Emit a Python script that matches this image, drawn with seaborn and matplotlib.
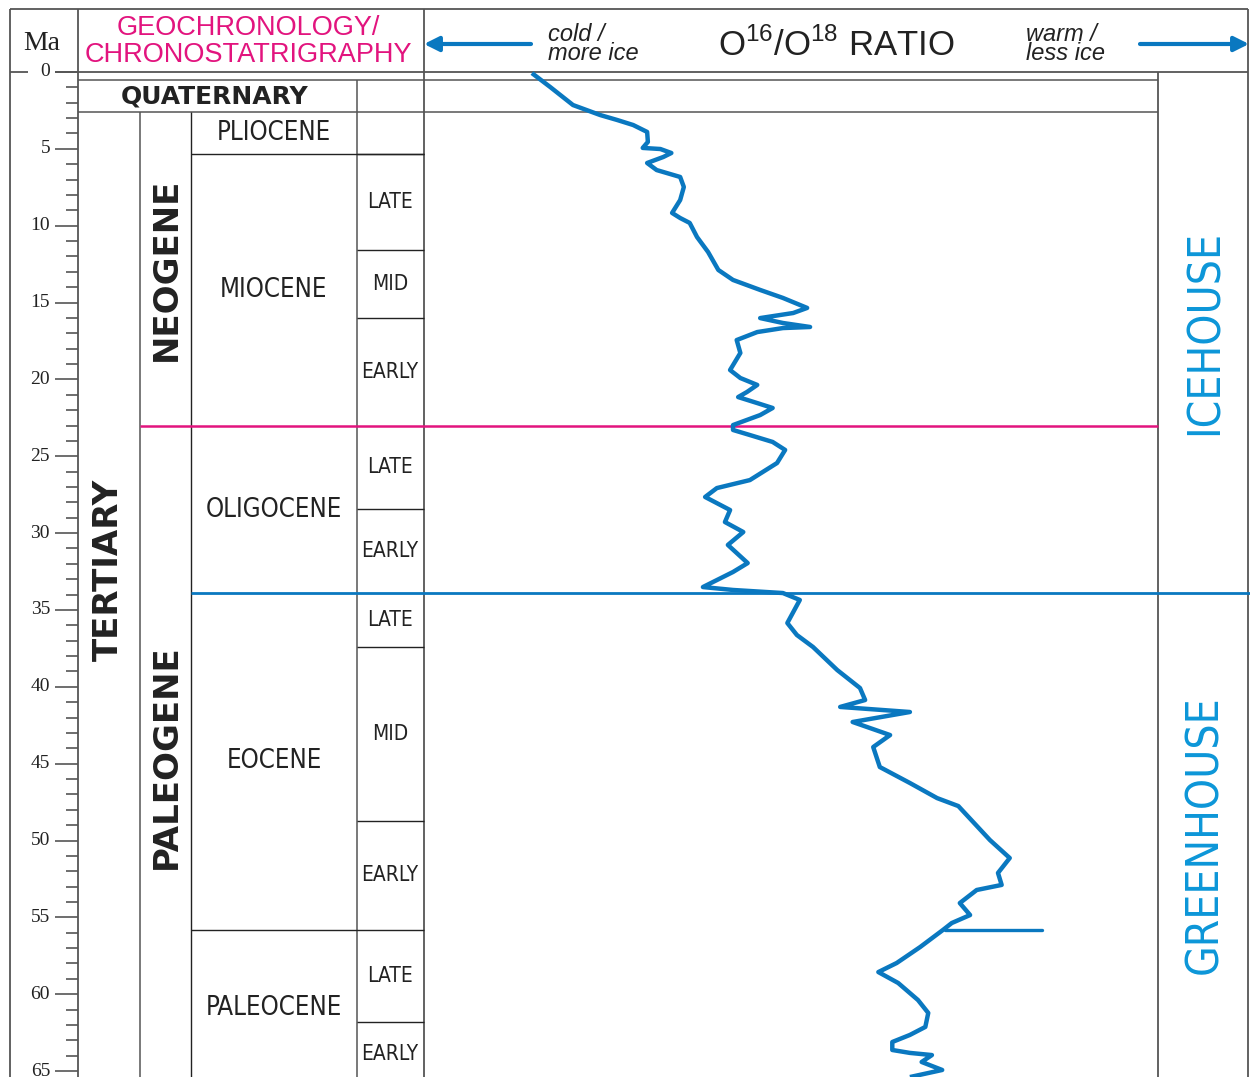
import numpy as np
import matplotlib
matplotlib.use("Agg")
import matplotlib.pyplot as plt
import seaborn as sns
from matplotlib import font_manager as fm

sns.set_theme(style="white")
plt.rcParams['font.family'] = ['Liberation Sans', 'DejaVu Sans']
plt.rcParams['mathtext.fontset'] = 'custom'
plt.rcParams['mathtext.rm'] = 'Liberation Sans'

# pick the narrowest available sans face
_fonts = fm.fontManager.ttflist
_names = {f.name for f in _fonts}
if 'Liberation Sans Narrow' in _names:
    NARROW, NSTRETCH = 'Liberation Sans Narrow', 'normal'
elif any(f.name == 'DejaVu Sans' and str(f.stretch) in ('condensed', 'semi-condensed', '87.5', '75')
         for f in _fonts):
    NARROW, NSTRETCH = 'DejaVu Sans', 'condensed'
elif 'Roboto Condensed' in _names:
    NARROW, NSTRETCH = 'Roboto Condensed', 'normal'
else:
    NARROW, NSTRETCH = 'Roboto', 'normal'

# ---------------- data ----------------
age_ma = [0.07, 0.98, 2.15, 2.80, 3.12, 3.45, 3.90, 4.55, 4.94, 5.01, 5.27, 5.53, 5.92, 6.38,
          6.83, 7.48, 8.33, 9.17, 9.50, 9.82, 10.74, 11.71, 12.88, 13.53, 14.18, 14.70,
          15.35, 15.68, 16.01, 16.33, 16.59, 16.66, 16.92, 17.44, 18.28, 19.39, 19.91,
          20.36, 20.82, 21.15, 21.54, 21.86, 22.32, 22.97, 23.29, 23.62, 24.07, 24.59,
          25.44, 26.55, 27.07, 27.65, 28.50, 29.28, 29.93, 30.77, 31.95, 32.53, 33.51,
          33.70, 33.90, 34.35, 35.85, 36.63, 37.41, 38.91, 40.08, 40.86, 41.31, 41.64,
          42.29, 43.14, 43.92, 45.22, 46.26, 47.24, 47.76, 49.97, 51.14, 52.11, 52.89,
          53.22, 54.07, 54.85, 55.37, 55.82, 56.93, 57.97, 58.56, 59.27, 60.38, 61.22,
          62.13, 62.65, 63.11, 63.63, 63.82, 63.96, 64.41, 64.93, 65.39]
o_ratio = [14.7, 17.2, 20.3, 24.0, 26.3, 28.5, 30.4, 30.5, 29.8, 32.2, 33.7, 32.6, 30.4, 31.7,
           34.9, 35.4, 34.9, 33.8, 34.9, 36.2, 37.2, 38.7, 40.1, 42.1, 45.8, 48.9,
           52.2, 50.3, 45.8, 48.9, 52.6, 48.9, 45.4, 42.6, 43.1, 41.7, 43.1,
           45.4, 44.0, 42.8, 45.4, 47.5, 45.8, 42.1, 42.1, 44.4, 47.5, 49.2,
           48.1, 44.4, 39.9, 38.3, 41.7, 41.0, 43.5, 41.4, 44.1, 42.1, 38.0,
           42.1, 48.9, 51.2, 49.5, 50.8, 53.0, 56.3, 59.4, 60.1, 56.7, 66.2,
           58.4, 63.5, 61.2, 62.1, 66.2, 69.9, 72.8, 77.1, 79.8, 78.2, 78.7,
           75.3, 73.0, 74.4, 71.9, 70.7, 67.6, 64.4, 61.9, 64.6, 67.3, 68.7,
           68.3, 66.2, 63.8, 63.8, 66.2, 69.2, 67.8, 70.6, 66.2]
petm_age = [55.82, 55.82]
petm_ratio = [71.0, 84.2]

epochs = ["PLIOCENE", "MIOCENE", "OLIGOCENE", "EOCENE", "PALEOCENE"]
epoch_top = [2.58, 5.33, 23.03, 33.9, 55.8]
epoch_base = [5.33, 23.03, 33.9, 55.8, 66.0]

sub_labels = ["LATE", "MID", "EARLY", "LATE", "EARLY", "LATE", "MID", "EARLY", "LATE", "EARLY"]
sub_top = [5.33, 11.6, 16.0, 23.03, 28.4, 33.9, 37.4, 48.7, 55.8, 61.8]
sub_base = [11.6, 16.0, 23.03, 28.4, 33.9, 37.4, 48.7, 55.8, 61.8, 66.0]

periods = ["NEOGENE", "PALEOGENE"]
period_top = [2.58, 23.03]
period_base = [23.03, 66.0]

climate = ["ICEHOUSE", "GREENHOUSE"]
climate_top = [0.0, 33.9]
climate_base = [33.9, 65.39]

ma_ticks = [0, 5, 10, 15, 20, 25, 30, 35, 40, 45, 50, 55, 60, 65]

# ---------------- layout ----------------
W, H = 1250, 1077
PX_PER_MA = 15.37
Y0 = 72.0
def ma(ypix):
    return (ypix - Y0) / PX_PER_MA

TOP = ma(0)
BOT = ma(H)

GRAY = '#555555'
INK = '#222222'
PINK = '#e2147e'
BLUE = '#0a78c0'
LBLUE = '#0c96d8'

fig = plt.figure(figsize=(W / 100, H / 100), dpi=100)
renderer = fig.canvas.get_renderer()

def fit_size(sample, target_px, **kw):
    t = fig.text(0, 0, sample, fontsize=20, **kw)
    w = t.get_window_extent(renderer=renderer).width
    t.remove()
    return 20.0 * target_px / w

EPOCH_FS = min(22.0, fit_size("MIOCENE", 108, family=NARROW, fontstretch=NSTRETCH))
SUB_FS = min(17.0, fit_size("EARLY", 57, family=NARROW, fontstretch=NSTRETCH))
CLIM_FS = min(34.0, fit_size("ICEHOUSE", 205, family=NARROW, fontstretch=NSTRETCH))

ax = fig.add_axes([0, 0, 1, 1])
ax.set_xlim(0, W)
ax.set_ylim(BOT, TOP)
ax.axis('off')

# frame
ax.hlines(ma(9), 10, 1248, color=GRAY, lw=1.3)
ax.vlines([10, 78, 424], ma(9), BOT, color=GRAY, lw=1.3)
ax.vlines(1248, ma(9), BOT, color=GRAY, lw=1.3)
ax.vlines(1158, 0, BOT, color=GRAY, lw=1.3)
ax.hlines(0, 55, 1248, color=GRAY, lw=1.3)
ax.hlines(0, 10, 28, color=GRAY, lw=1.3)
ax.hlines(0.55, 78, 1158, color=GRAY, lw=1.1)
ax.hlines(2.58, 78, 1158, color=GRAY, lw=1.1)
ax.vlines(357, 0.55, 2.58, color=GRAY, lw=1.1)

# columns
ax.vlines(140, 2.58, BOT, color=GRAY, lw=1.1)
ax.vlines(191, 2.58, BOT, color=INK, lw=1.0)
ax.vlines(357, 2.58, BOT, color=GRAY, lw=1.1)
for t in epoch_top[1:]:
    if t not in (23.03, 33.9):
        ax.hlines(t, 191, 424, color=INK, lw=1.0)
for t in sub_top:
    if t not in (23.03, 33.9, 55.8):
        ax.hlines(t, 357, 424, color=INK, lw=1.0)
ax.hlines(23.03, 140, 1158, color=PINK, lw=1.8)
ax.hlines(33.9, 191, 1250, color=BLUE, lw=2.0)

# Ma scale
for m in range(0, 66):
    if m % 5 == 0:
        ax.hlines(m, 55, 78, color=GRAY, lw=1.2)
    else:
        ax.hlines(m, 66, 78, color=GRAY, lw=1.2)
for m in ma_ticks:
    ax.text(50, m, str(m), ha='right', va='center', fontsize=14,
            family='Liberation Serif', color=INK)

# header
ax.text(42, ma(44), "Ma", ha='center', va='center', fontsize=20,
        family='Liberation Serif', color=INK)
ax.text(248, ma(28), "GEOCHRONOLOGY/", ha='center', va='center', fontsize=19.5, color=PINK)
ax.text(248, ma(55), "CHRONOSTATRIGRAPHY", ha='center', va='center', fontsize=19.5, color=PINK)
ax.text(548, ma(44), "cold /\nmore ice", ha='left', va='center', fontsize=17,
        style='italic', color=INK, linespacing=0.8)
ax.text(1026, ma(44), "warm /\nless ice", ha='left', va='center', fontsize=17,
        style='italic', color=INK, linespacing=0.8)
ax.text(836, ma(45), r"O$^{16}$/O$^{18}$ RATIO", ha='center', va='center', fontsize=25, color=INK)
ax.annotate('', xy=(424, ma(44)), xytext=(531, ma(44)),
            arrowprops=dict(arrowstyle='-|>', lw=3, color=BLUE, mutation_scale=22,
                            shrinkA=0, shrinkB=0))
ax.annotate('', xy=(1249, ma(44)), xytext=(1140, ma(44)),
            arrowprops=dict(arrowstyle='-|>', lw=3, color=BLUE, mutation_scale=22,
                            shrinkA=0, shrinkB=0))

# strat labels
ax.text(215, 1.62, "QUATERNARY", ha='center', va='center', fontsize=18,
        fontweight='bold', family='DejaVu Sans', color=INK)
for name, t, b in zip(epochs, epoch_top, epoch_base):
    ax.text(274, (t + b) / 2, name, ha='center', va='center', fontsize=EPOCH_FS,
            family=NARROW, fontstretch=NSTRETCH, color=INK)
for name, t, b in zip(sub_labels, sub_top, sub_base):
    ax.text(390, (t + b) / 2, name, ha='center', va='center', fontsize=SUB_FS,
            family=NARROW, fontstretch=NSTRETCH, color=INK)
for name, t, b in zip(periods, period_top, period_base):
    ax.text(166, (t + b) / 2, name, ha='center', va='center', fontsize=24.5,
            rotation=90, fontweight='bold', family='DejaVu Sans', color=INK)
ax.text(108, 32.4, "TERTIARY", ha='center', va='center', fontsize=24.5,
        rotation=90, fontweight='bold', family='DejaVu Sans', color=INK)
for name, t, b in zip(climate, climate_top, climate_base):
    ax.text(1205, (t + b) / 2, name, ha='center', va='center', fontsize=CLIM_FS,
            rotation=90, family=NARROW, fontstretch=NSTRETCH, color=LBLUE)

# curve
ax2 = fig.add_axes([424 / W, 0, 734 / W, 1])
ax2.set_xlim(0, 100)
ax2.set_ylim(BOT, TOP)
ax2.patch.set_alpha(0)
sns.lineplot(x=o_ratio, y=age_ma, sort=False, estimator=None, ax=ax2, color=BLUE,
             lw=3.2, solid_joinstyle='round', solid_capstyle='butt')
sns.lineplot(x=petm_ratio, y=petm_age, sort=False, estimator=None, ax=ax2, color=BLUE,
             lw=2.4)
ax2.set_ylim(BOT, TOP)
ax2.axis('off')

fig.savefig("out.png", dpi=100)
